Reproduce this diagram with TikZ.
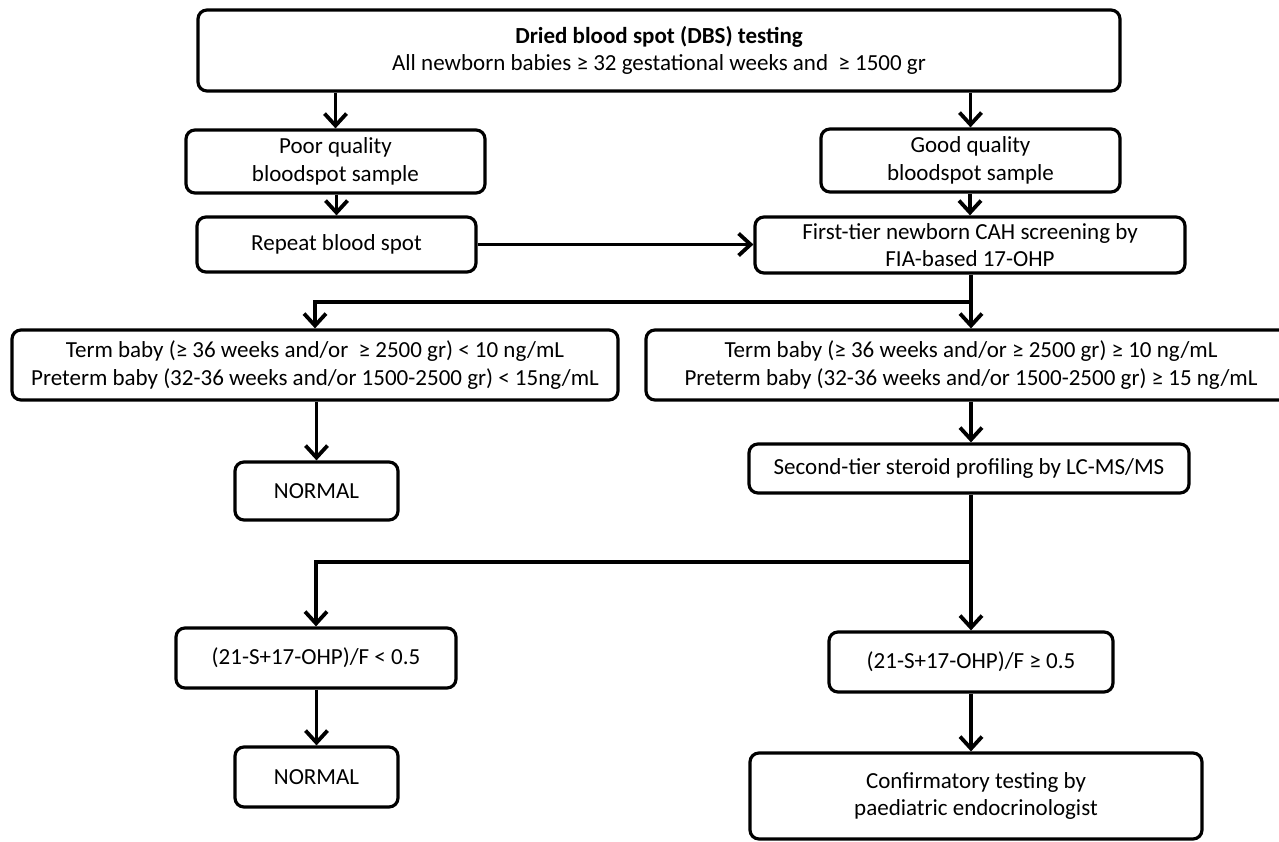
\documentclass[tikz,border=0pt]{standalone}
\usepackage{fontspec}
\setmainfont{Carlito}
\usetikzlibrary{arrows.meta,calc}
\begin{document}
\begin{tikzpicture}[x=1pt,y=-1pt,
  box/.style={draw, rounded corners=9pt, line width=3.2pt, align=center,
    inner sep=0pt, font=\fontsize{23}{27.5}\selectfont, fill=white},
  arr/.style={line width=3.8pt, -{Straight Barb[length=12pt,width=22pt]}},
  ln/.style={line width=3.8pt}]
\useasboundingbox (0,0) rectangle (1279,842);
\clip (0,0) rectangle (1279,842);
\fill[white] (0,0) rectangle (1279,842);
% nodes
\node[box, minimum width=922pt, minimum height=81pt] (top) at (659,50.5)
  {\textbf{Dried blood spot (DBS) testing}\\All newborn babies ≥ 32 gestational weeks and\ \ ≥ 1500 gr};
\node[box, minimum width=299pt, minimum height=63pt] (poor) at (335.5,161.5)
  {Poor quality\\bloodspot sample};
\node[box, minimum width=279pt, minimum height=55pt] (rep) at (336.5,244.5)
  {Repeat blood spot};
\node[box, minimum width=299pt, minimum height=63pt] (good) at (970.5,160.5)
  {Good quality\\bloodspot sample};
\node[box, minimum width=430pt, minimum height=56pt] (first) at (970,245)
  {First-tier newborn CAH screening by\\FIA-based 17-OHP};
\node[box, minimum width=606pt, minimum height=70pt] (termL) at (315,365)
  {Term baby (≥ 36 weeks and/or\ \ ≥ 2500 gr) < 10 ng/mL\\Preterm baby (32-36 weeks and/or 1500-2500 gr) < 15ng/mL};
\node[box, minimum width=650pt, minimum height=70pt] (termR) at (971,365)
  {Term baby (≥ 36 weeks and/or ≥ 2500 gr) ≥ 10 ng/mL\\Preterm baby (32-36 weeks and/or 1500-2500 gr) ≥ 15 ng/mL};
\node[box, minimum width=163pt, minimum height=58pt] (norm1) at (316.5,491)
  {NORMAL};
\node[box, minimum width=440pt, minimum height=49pt] (second) at (969,468.5)
  {Second-tier steroid profiling by LC-MS/MS};
\node[box, minimum width=280pt, minimum height=60pt] (ratioL) at (316,658)
  {(21-S+17-OHP)/F < 0.5};
\node[box, minimum width=163pt, minimum height=60pt] (norm2) at (316.5,777)
  {NORMAL};
\node[box, minimum width=284pt, minimum height=60pt] (ratioR) at (971,662)
  {(21-S+17-OHP)/F ≥ 0.5};
\node[box, minimum width=452pt, minimum height=86pt] (conf) at (976,796)
  {Confirmatory testing by\\paediatric endocrinologist};
% junction coordinates
\coordinate (j1) at (971,302);
\coordinate (j2) at (971,562);
% connectors
\draw[arr] (top.south -| poor.north) -- (poor.north);
\draw[arr] (poor.south -| rep.north) -- (rep.north);
\draw[arr] (top.south -| good.north) -- (good.north);
\draw[arr] (good.south -| first.north) -- (first.north);
\draw[arr] (rep.east) -- (first.west |- rep.east);
\draw[arr] (first.south -| termR.north) -- (termR.north);
\draw[arr] (j1) -| (termL.north);
\draw[arr] (termL.south -| norm1.north) -- (norm1.north);
\draw[arr] (termR.south) -- (termR.south |- second.north);
\draw[arr] (second.south -| ratioR.north) -- (ratioR.north);
\draw[arr] (j2) -| (ratioL.north);
\draw[arr] (ratioL.south -| norm2.north) -- (norm2.north);
\draw[arr] (ratioR.south) -- (ratioR.south |- conf.north);
\end{tikzpicture}
\end{document}
